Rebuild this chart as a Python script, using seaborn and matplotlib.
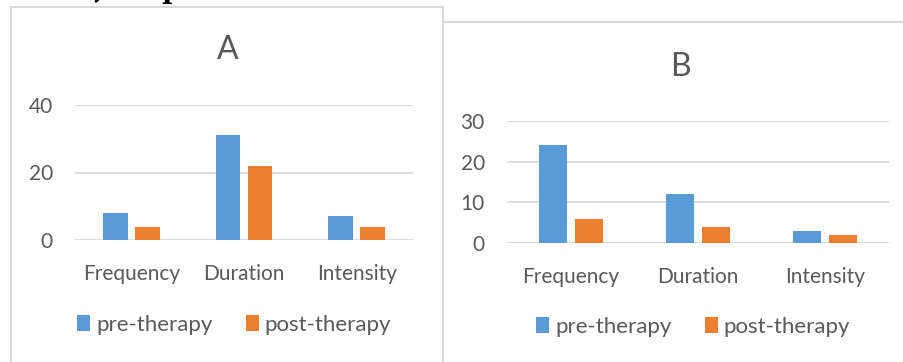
import matplotlib
matplotlib.use("Agg")
import matplotlib.pyplot as plt
from matplotlib.lines import Line2D
from matplotlib.patches import Patch
import seaborn as sns
import pandas as pd

categories = ["Frequency", "Duration", "Intensity"]
series = ["pre-therapy", "post-therapy"]
pre_a = [8, 31, 7]
post_a = [4, 22, 4]
pre_b = [24, 12, 3]
post_b = [6, 4, 2]
ticks_a = [0, 20, 40]
ticks_b = [0, 10, 20, 30]
colors = ["#5B9BD5", "#ED7D31"]
text_color = "#595959"
grid_color = "#D9D9D9"

sns.set_theme(style="white")
plt.rcParams["font.family"] = ["Lato", "DejaVu Sans"]

W, H = 904, 362
fig = plt.figure(figsize=(W / 100, H / 100), dpi=100)
fig.patch.set_facecolor("white")


def fx(px):
    return px / W


def fy(py):
    return 1 - py / H


def long_frame(pre, post):
    rows = []
    for c, a, b in zip(categories, pre, post):
        rows.append({"category": c, "phase": series[0], "value": a})
        rows.append({"category": c, "phase": series[1], "value": b})
    return pd.DataFrame(rows)


def panel(left, right, top, bottom, pre, post, ticks, title, title_y,
          width, gap, legend_xy):
    ax = fig.add_axes([fx(left), fy(bottom), fx(right - left), (bottom - top) / H])
    df = long_frame(pre, post)
    sns.barplot(data=df, x="category", y="value", hue="phase",
                hue_order=series, palette=colors, width=width, gap=gap,
                saturation=1, ax=ax, legend=False, linewidth=0)
    ax.set_ylim(ticks[0], ticks[-1])
    ax.set_xlim(-0.5, len(categories) - 0.5)
    ax.set_yticks(ticks)
    ax.set_xlabel("")
    ax.set_ylabel("")
    for s in ax.spines.values():
        s.set_visible(False)
    ax.grid(False)
    for t in ticks:
        ax.axhline(t, color=grid_color, lw=1.3, zorder=0)
    ax.tick_params(axis="y", length=0, pad=16, labelsize=15, labelcolor=text_color)
    ax.tick_params(axis="x", length=0, pad=17, labelsize=15, labelcolor=text_color)
    ax.set_facecolor("none")
    fig.text(fx(title[1]), fy(title_y), title[0], ha="center", va="center",
             fontsize=23, color=text_color)
    handles = [Patch(facecolor=c, edgecolor="none") for c in colors]
    fig.legend(handles, series, loc="center",
               bbox_to_anchor=(fx(legend_xy[0]), fy(legend_xy[1])),
               ncol=2, frameon=False, fontsize=16, labelcolor=text_color,
               handlelength=0.6, handleheight=0.75, handletextpad=0.25,
               columnspacing=1.5)
    return ax


panel(75, 413, 105, 240, pre_a, post_a, ticks_a, ("A", 228), 50,
      0.568, 0.22, (234, 325))
panel(507, 889, 121, 243, pre_b, post_b, ticks_b, ("B", 680), 67,
      0.566, 0.22, (693, 327))

# chart frames
border = dict(color=grid_color, lw=1.5, transform=fig.transFigure)
fig.add_artist(Line2D([fx(11), fx(11)], [fy(7), fy(H + 5)], **border))
fig.add_artist(Line2D([fx(11), fx(443)], [fy(7), fy(7)], **border))
fig.add_artist(Line2D([fx(443), fx(443)], [fy(7), fy(H + 5)], **border))
fig.add_artist(Line2D([fx(443), fx(W + 5)], [fy(22), fy(22)], **border))

# running heading text above the charts
fig.text(fx(94), fy(-2), ",", fontsize=20, fontweight="bold",
         family=["DejaVu Serif"], color="black", va="baseline")
fig.text(fx(161), fy(-2), "p", fontsize=20, fontweight="bold",
         family=["DejaVu Serif"], color="black", va="baseline")

fig.savefig("out.png", dpi=100)
